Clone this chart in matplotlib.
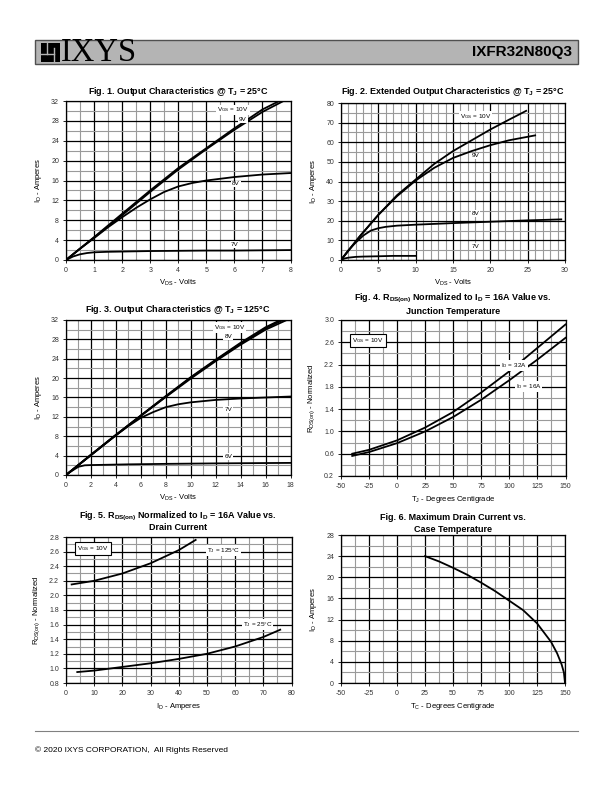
import numpy as np
import matplotlib.pyplot as plt
from matplotlib.patches import Rectangle
from matplotlib.ticker import MultipleLocator, FixedLocator

plt.rcParams["font.family"] = ["Liberation Sans", "DejaVu Sans"]
plt.rcParams["mathtext.default"] = "regular"
plt.rcParams["axes.unicode_minus"] = False

W, H = 612, 792

# ---- Fig. 1 data : Output characteristics @ 25C (VDS volts, ID amps)
f1_10v_x = [0, 1, 2, 3, 4, 5, 6, 7, 7.6]
f1_10v_y = [0, 4.6, 9.3, 14.0, 18.5, 22.5, 26.5, 30.3, 32.0]
f1_9v_x = [0, 1, 2, 3, 4, 5, 6, 7, 7.75]
f1_9v_y = [0, 4.5, 9.0, 13.7, 18.2, 22.3, 26.2, 29.8, 32.0]
f1_8v_x = [0, 0.5, 1, 1.5, 2, 2.5, 3, 3.5, 4, 4.5, 5, 6, 7, 8]
f1_8v_y = [0, 2.3, 4.4, 6.6, 8.6, 10.5, 12.2, 13.7, 14.8, 15.5, 16.0, 16.7, 17.2, 17.5]
f1_7v_x = [0, 0.25, 0.5, 0.75, 1, 1.5, 2, 3, 4, 5, 6, 7, 8]
f1_7v_y = [0, 0.7, 1.15, 1.4, 1.55, 1.65, 1.7, 1.8, 1.85, 1.9, 1.9, 1.95, 2.0]

# ---- Fig. 2 data : Extended output characteristics @ 25C
f2_10v_x = [0, 2.5, 5, 7.5, 10, 12.5, 15, 17.5, 20, 22.5, 24.8]
f2_10v_y = [0, 12, 23, 33, 41, 49, 55.5, 61, 66.5, 71.5, 76]
f2_9v_x = [0, 2.5, 5, 7.5, 10, 12.5, 15, 17.5, 20, 22.5, 26]
f2_9v_y = [0, 12, 23, 32.5, 40.5, 47, 52, 55.5, 58.5, 61, 63.5]
f2_8v_x = [0, 1, 2, 3, 4, 5, 6, 7.5, 10, 15, 20, 25, 29.5]
f2_8v_y = [0, 5, 9, 12.5, 15, 16.2, 16.9, 17.5, 18, 18.8, 19.5, 20.2, 20.7]
f2_7v_x = [0, 0.5, 1, 2, 3, 5, 7, 10]
f2_7v_y = [0, 0.8, 1.2, 1.6, 1.75, 1.9, 2.1, 2.1]

# ---- Fig. 3 data : Output characteristics @ 125C
f3_10v_x = [0, 2, 4, 6, 8, 10, 12, 14, 16, 17.2]
f3_10v_y = [0, 4.2, 8.3, 12.3, 16.3, 20.2, 23.8, 27.3, 30.5, 32.0]
f3_9v_x = [0, 2, 4, 6, 8, 10, 12, 14, 16, 17.4]
f3_9v_y = [0, 4.15, 8.25, 12.25, 16.2, 20.1, 23.7, 27.1, 30.3, 32.0]
f3_8v_x = [0, 2, 4, 6, 8, 10, 12, 14, 16, 17.7]
f3_8v_y = [0, 4.1, 8.2, 12.2, 16.1, 19.9, 23.5, 26.9, 30.0, 32.0]
f3_7v_x = [0, 2, 4, 5, 6, 7, 8, 9, 10, 12, 14, 16, 18]
f3_7v_y = [0, 4.1, 8.2, 10.1, 11.8, 13.0, 14.0, 14.6, 15.0, 15.5, 15.8, 16.0, 16.2]
f3_6v_x = [0, 0.5, 1, 1.5, 2, 3, 5, 8, 12, 18]
f3_6v_y = [0, 0.9, 1.7, 2.0, 2.05, 2.1, 2.2, 2.3, 2.4, 2.5]

# ---- Fig. 4 data : RDS(on) normalized vs junction temperature
f4_t = [-40, -25, 0, 25, 50, 75, 100, 125, 150]
f4_32a = [0.60, 0.67, 0.84, 1.07, 1.35, 1.70, 2.08, 2.50, 2.92]
f4_16a = [0.56, 0.63, 0.79, 1.00, 1.26, 1.57, 1.92, 2.29, 2.68]
f4_yticks = [0.2, 0.6, 1.0, 1.4, 1.8, 2.2, 2.6, 3.0]

# ---- Fig. 5 data : RDS(on) normalized vs drain current
f5_125_i = [2, 10, 20, 30, 40, 46]
f5_125_r = [2.15, 2.20, 2.30, 2.44, 2.62, 2.76]
f5_25_i = [4, 10, 20, 30, 40, 50, 60, 70, 76]
f5_25_r = [0.95, 0.97, 1.02, 1.07, 1.13, 1.20, 1.30, 1.43, 1.53]

# ---- Fig. 6 data : Maximum drain current vs case temperature
f6_tc = [25, 37.5, 50, 62.5, 75, 87.5, 100, 112.5, 125, 137.5, 143, 147, 149, 150]
f6_id = [24, 23.0, 21.8, 20.5, 19.0, 17.4, 15.6, 13.8, 11.3, 7.8, 5.6, 3.5, 2.0, 0]

fig = plt.figure(figsize=(W / 100, H / 100), dpi=100)


def px_axes(x0, y0, x1, y1):
    # pixel box (top-left origin) -> figure axes
    return fig.add_axes([x0 / W, 1 - y1 / H, (x1 - x0) / W, (y1 - y0) / H])


def fig_text(x, y, s, **kw):
    fig.text(x / W, 1 - y / H, s, **kw)


def fig_line(xs, ys, **kw):
    fig.lines.append(plt.Line2D([x / W for x in xs], [1 - y / H for y in ys],
                                transform=fig.transFigure, **kw))


def setup(ax, xlim, ylim, xmaj, xmin, ymaj, ymin, xlabel, ylabel):
    ax.set_xlim(*xlim)
    ax.set_ylim(*ylim)
    ax.xaxis.set_major_locator(MultipleLocator(xmaj))
    ax.xaxis.set_minor_locator(MultipleLocator(xmin))
    ax.yaxis.set_major_locator(MultipleLocator(ymaj))
    ax.yaxis.set_minor_locator(MultipleLocator(ymin))
    ax.grid(True, which="minor", color="#9a9a9a", lw=0.8)
    ax.grid(True, which="major", color="black", lw=0.9)
    ax.set_axisbelow(True)
    ax.tick_params(which="major", labelsize=5, length=2, width=0.6, pad=3,
                   direction="out", colors="black", labelcolor="#333333")
    ax.tick_params(which="minor", length=0)
    for sp in ax.spines.values():
        sp.set_linewidth(0.9)
    ax.set_xlabel(xlabel, fontsize=5.5, labelpad=3)
    ax.set_ylabel(ylabel, fontsize=5.5, labelpad=5)


def lbl(ax, x, y, s, box=False):
    if box:
        bb = dict(boxstyle="square,pad=0.35", fc="white", ec="black", lw=0.8)
    else:
        bb = dict(boxstyle="square,pad=0.15", fc="white", ec="none")
    ax.text(x, y, s, fontsize=4.6, ha="center", va="center", bbox=bb, zorder=3)


def title(x, y, s):
    fig_text(x, y, s, fontsize=6.5, fontweight="bold", ha="center", va="center")


LW = 1.3

# ---- header
fig.patches.append(Rectangle((35 / W, 1 - 64 / H), 543 / W, 24 / H, transform=fig.transFigure,
                             fc="#b4b4b4", ec="#505050", lw=1.0))
fig.patches.append(Rectangle((41 / W, 1 - 62 / H), 19 / W, 19 / H, transform=fig.transFigure,
                             fc="black", ec="none"))
fig_line([47, 47], [43, 54], color="#b4b4b4", lw=1.0)
fig_line([41, 54], [54, 54], color="#b4b4b4", lw=1.0)
fig_line([54, 54], [48, 62], color="#b4b4b4", lw=1.0)
fig_text(61, 52.5, "IXYS", family="Liberation Serif", fontsize=23.5, va="center", ha="left")
fig_text(572, 52, "IXFR32N80Q3", fontsize=11, fontweight="bold", va="center", ha="right")

# ---- Fig. 1
ax = px_axes(66, 101, 290.5, 260)
setup(ax, (0, 8), (0, 32), 1, 0.5, 4, 2, "V$_{DS}$ - Volts", "I$_D$ - Amperes")
for xs, ys in [(f1_10v_x, f1_10v_y), (f1_9v_x, f1_9v_y), (f1_8v_x, f1_8v_y), (f1_7v_x, f1_7v_y)]:
    ax.plot(xs, ys, color="black", lw=LW, zorder=2)
lbl(ax, 5.95, 30.2, "V$_{GS}$ = 10V")
lbl(ax, 6.3, 28.2, "9V")
lbl(ax, 6.05, 15.3, "8V")
lbl(ax, 6.0, 3.2, "7V")
title(178, 92, "Fig. 1. Output Characteristics @ T$_J$ = 25°C")

# ---- Fig. 2
ax = px_axes(341, 103, 565, 260)
setup(ax, (0, 30), (0, 80), 5, 1, 10, 5, "V$_{DS}$ - Volts", "I$_D$ - Amperes")
for xs, ys in [(f2_10v_x, f2_10v_y), (f2_9v_x, f2_9v_y), (f2_8v_x, f2_8v_y), (f2_7v_x, f2_7v_y)]:
    ax.plot(xs, ys, color="black", lw=LW, zorder=2)
lbl(ax, 18.0, 73, "V$_{GS}$ = 10V")
lbl(ax, 18.0, 53, "9V")
lbl(ax, 18.0, 23.5, "8V")
lbl(ax, 18.0, 6.8, "7V")
title(453, 92, "Fig. 2. Extended Output Characteristics @ T$_J$ = 25°C")

# ---- Fig. 3
ax = px_axes(66, 320, 290.5, 475)
setup(ax, (0, 18), (0, 32), 2, 1, 4, 2, "V$_{DS}$ - Volts", "I$_D$ - Amperes")
for xs, ys in [(f3_10v_x, f3_10v_y), (f3_9v_x, f3_9v_y), (f3_8v_x, f3_8v_y),
               (f3_7v_x, f3_7v_y), (f3_6v_x, f3_6v_y)]:
    ax.plot(xs, ys, color="black", lw=LW, zorder=2)
lbl(ax, 13.1, 30.5, "V$_{GS}$ = 10V")
lbl(ax, 13.0, 28.6, "8V")
lbl(ax, 13.0, 13.6, "7V")
lbl(ax, 13.0, 3.9, "6V")
title(178, 309, "Fig. 3. Output Characteristics @ T$_J$ = 125°C")

# ---- Fig. 4
ax = px_axes(341, 320, 565.5, 476)
setup(ax, (-50, 150), (0.2, 3.0), 25, 12.5, 0.4, 0.2, "T$_J$ - Degrees Centigrade",
      "R$_{DS(on)}$ - Normalized")
ax.yaxis.set_major_locator(FixedLocator(f4_yticks))
ax.plot(f4_t, f4_32a, color="black", lw=LW, zorder=2)
ax.plot(f4_t, f4_16a, color="black", lw=LW, zorder=2)
lbl(ax, -26, 2.63, "V$_{GS}$ = 10V", box=True)
lbl(ax, 104, 2.19, "I$_D$ = 32A")
lbl(ax, 117, 1.81, "I$_D$ = 16A")
title(453, 298, "Fig. 4. R$_{DS(on)}$ Normalized to I$_D$ = 16A Value vs.")
title(453, 311, "Junction Temperature")

# ---- Fig. 5
ax = px_axes(66, 537, 291.5, 683)
setup(ax, (0, 80), (0.8, 2.8), 10, 5, 0.2, 0.1, "I$_D$ - Amperes", "R$_{DS(on)}$ - Normalized")
ax.plot(f5_125_i, f5_125_r, color="black", lw=LW, zorder=2)
ax.plot(f5_25_i, f5_25_r, color="black", lw=LW, zorder=2)
lbl(ax, 9.5, 2.64, "V$_{GS}$ = 10V", box=True)
lbl(ax, 56, 2.61, "T$_J$ = 125°C")
lbl(ax, 68, 1.60, "T$_J$ = 25°C")
title(178, 516, "Fig. 5. R$_{DS(on)}$ Normalized to I$_D$ = 16A Value vs.")
title(178, 528, "Drain Current")

# ---- Fig. 6
ax = px_axes(341, 535, 565, 683)
setup(ax, (-50, 150), (0, 28), 25, 12.5, 4, 2, "T$_C$ - Degrees Centigrade", "I$_D$ - Amperes")
ax.plot(f6_tc, f6_id, color="black", lw=LW, zorder=2)
title(453, 518, "Fig. 6. Maximum Drain Current vs.")
title(453, 530, "Case Temperature")

# ---- footer
fig_line([35, 578], [731, 731], color="#808080", lw=0.8)
fig_text(35, 750, "© 2020 IXYS CORPORATION,  All Rights Reserved", fontsize=6, ha="left", va="center")

fig.savefig("out.png", dpi=100)
